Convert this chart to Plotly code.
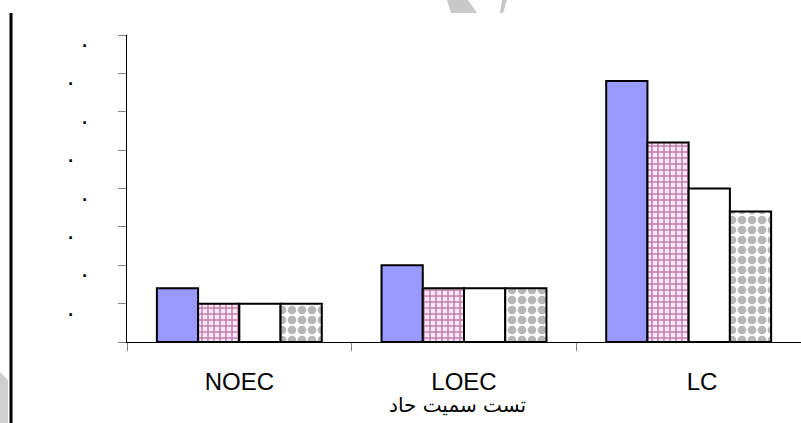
import plotly.graph_objects as go

categories = ["NOEC", "LOEC", "LC"]
category_labels = ["NOEC", "LOEC", "&nbsp;&nbsp;&nbsp;&nbsp;LC"]
series_blue = [1.4, 2.0, 6.8]
series_grid = [1.0, 1.4, 5.2]
series_white = [1.0, 1.4, 4.0]
series_checker = [1.0, 1.4, 3.4]
y_tick_values = [1, 2, 3, 4, 5, 6, 7, 8]
y_tick_labels = [".", ".", ".", ".", ".", ".", ".", "."]
x_title = "تست سمیت حاد"

W, H = 801, 423
L, R, T, B = 127, 0, 35, 81
PW, PH = W - L - R, H - T - B


def px(x):
    return (x - L) / PW


def py(y):
    return (H - B - y) / PH


line = dict(color="black", width=2)
fig = go.Figure()
fig.add_bar(x=categories, y=series_blue, name="1",
            marker=dict(color="#9999FF", line=line))
fig.add_bar(x=categories, y=series_grid, name="2",
            marker=dict(color="#FFE6FF", line=line,
                        pattern=dict(shape="+", fgcolor="#7F1F4F", bgcolor="#FFE6FF",
                                     size=6, solidity=0.45)))
fig.add_bar(x=categories, y=series_white, name="3",
            marker=dict(color="white", line=line))
fig.add_bar(x=categories, y=series_checker, name="4",
            marker=dict(color="white", line=line,
                        pattern=dict(shape=".", fgcolor="#6E6E6E", bgcolor="white",
                                     size=10, solidity=0.6)))

annotations = []
for i, (v, t) in enumerate(zip(y_tick_values, y_tick_labels)):
    xpos = 70 if i % 2 == 0 else 84
    annotations.append(dict(x=px(xpos), y=v, xref="paper", yref="y", text=t,
                            showarrow=False, xanchor="center", yanchor="middle",
                            yshift=-3,
                            font=dict(family="Liberation Sans, Arial", size=26, color="black")))
annotations.append(dict(x=px(457), y=py(405), xref="paper", yref="paper", text=x_title,
                        showarrow=False, xanchor="center", yanchor="middle",
                        font=dict(family="DejaVu Sans", size=20, color="black")))

shapes = [
    dict(type="line", xref="paper", yref="paper", x0=px(11), x1=px(11),
         y0=py(13), y1=py(423), line=dict(color="black", width=3)),
    dict(type="path", xref="paper", yref="paper", layer="below",
         path=f"M {px(447)} {py(0)} L {px(468)} {py(0)} L {px(477)} {py(13)} L {px(451)} {py(13)} Z",
         fillcolor="#C8C8C8", line=dict(width=0)),
    dict(type="path", xref="paper", yref="paper", layer="below",
         path=f"M {px(502)} {py(0)} L {px(507)} {py(0)} L {px(503)} {py(13)} L {px(500)} {py(13)} Z",
         fillcolor="#C8C8C8", line=dict(width=0)),
    dict(type="path", xref="paper", yref="paper", layer="below",
         path=f"M {px(0)} {py(372)} L {px(8)} {py(380)} L {px(8)} {py(423)} L {px(0)} {py(423)} Z",
         fillcolor="#D0D0D0", line=dict(width=0)),
]

fig.update_layout(
    width=W, height=H,
    margin=dict(l=L, r=R, t=T, b=B),
    paper_bgcolor="white", plot_bgcolor="white",
    barmode="group", bargap=0.266, bargroupgap=0,
    showlegend=False,
    font=dict(family="Liberation Sans, Arial", size=24, color="black"),
    annotations=annotations,
    shapes=shapes,
)
fig.update_xaxes(type="category", tickmode="array", tickvals=categories, ticktext=category_labels,
                 tickson="boundaries", ticks="outside", ticklen=8, tickcolor="#808080",
                 ticklabelstandoff=18,
                 showline=True, linecolor="black", linewidth=1, showgrid=False,
                 tickfont=dict(size=24))
fig.update_yaxes(range=[0, 8], dtick=1, tick0=0, ticks="outside", ticklen=8, tickcolor="#808080",
                 showline=True, linecolor="black", linewidth=1, showgrid=False,
                 zeroline=False, showticklabels=False)

fig.write_html("out.html", config={"displayModeBar": False},
               post_script="document.body.style.margin='0';")
